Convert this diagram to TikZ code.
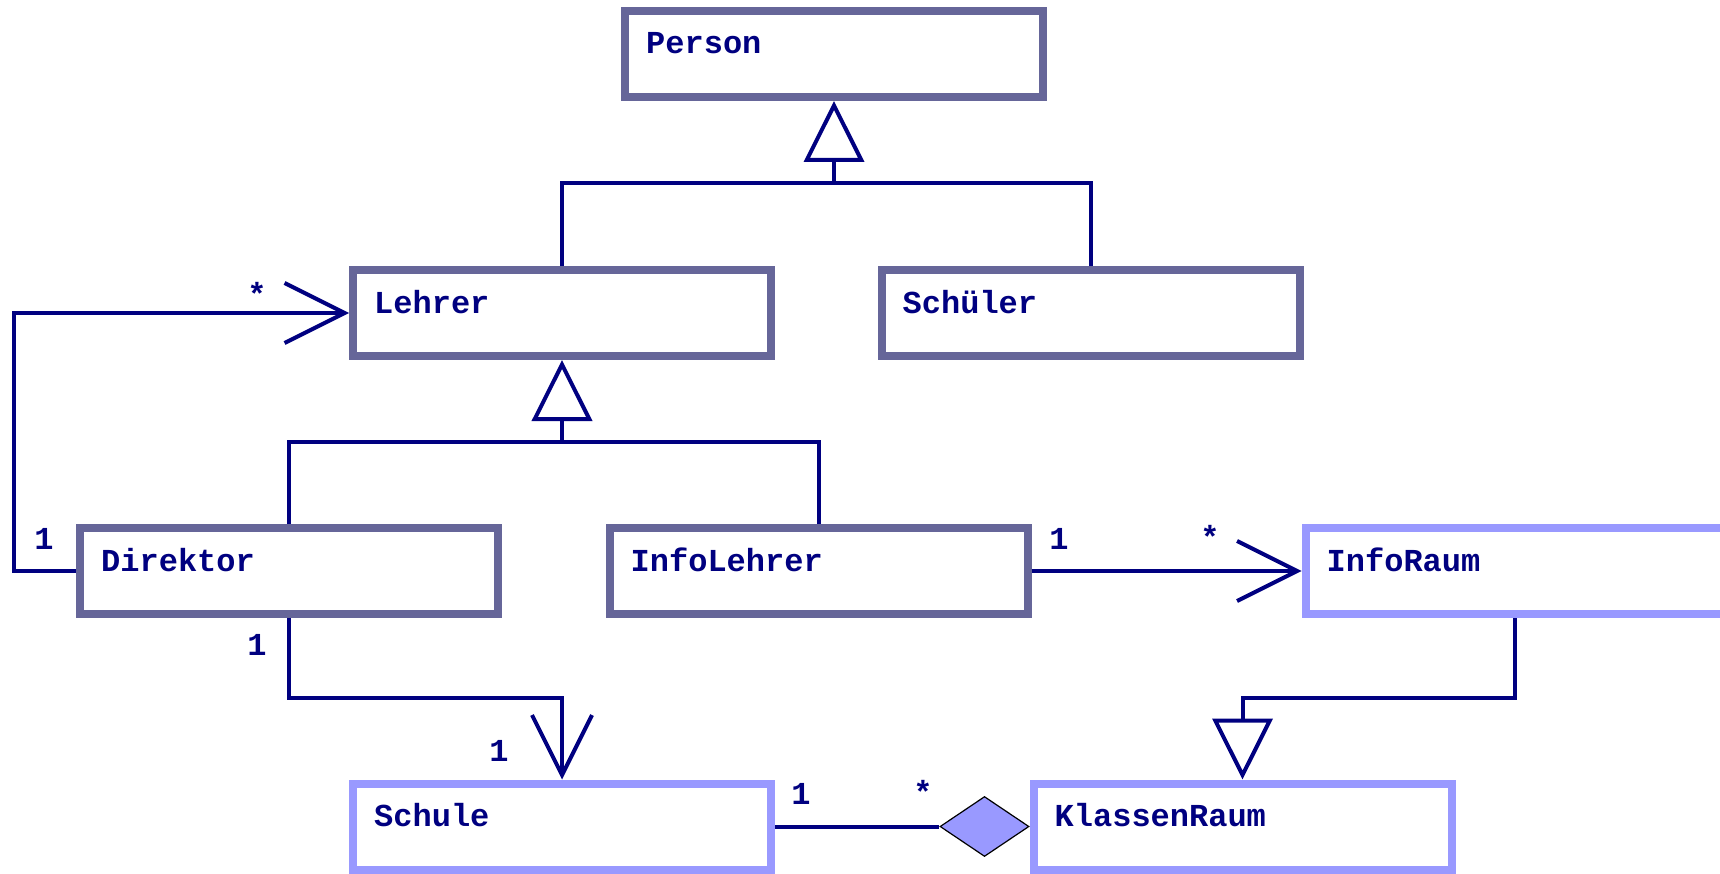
\documentclass[tikz,border=0pt]{standalone}
\usepackage{fontspec}
\setmainfont{Liberation Mono}
\usetikzlibrary{arrows.meta,shapes.geometric}
\definecolor{boxdark}{HTML}{666699}
\definecolor{boxlight}{HTML}{9999FF}
\definecolor{navyline}{HTML}{000080}
\begin{document}
\begin{tikzpicture}[x=1pt,y=-1pt,
  cls/.style={draw=boxdark, line width=8pt, minimum width=418pt, minimum height=86pt, inner sep=0pt, fill=white},
  clsl/.style={cls, draw=boxlight},
  cname/.style={anchor=base west, text=navyline, font=\fontsize{32}{38}\selectfont\bfseries, inner sep=0pt},
  mult/.style={text=navyline, font=\fontsize{32}{38}\selectfont\bfseries, inner sep=0pt},
  conn/.style={draw=navyline, line width=4pt},
  gen/.style={conn, -{Triangle[open, length=61pt, width=60pt]}},
  assoc/.style={conn, -{Straight Barb[length=60pt, width=60pt]}},
  agg/.style={diamond, draw=black, line width=1.2pt, fill=boxlight, minimum width=89pt, minimum height=60pt, inner sep=0pt}
]
\useasboundingbox (0,0) rectangle (1720,874);
% classes
\node[cls]  (Person)      at (834,54)     {};
\node[cls]  (Lehrer)      at (562,313)    {};
\node[cls]  (Schueler)    at (1090.5,313) {};
\node[cls]  (Direktor)    at (289,571)    {};
\node[cls]  (InfoLehrer)  at (818.5,571)  {};
\node[clsl] (InfoRaum)    at (1514.5,571) {};
\node[clsl] (Schule)      at (562,826.5)  {};
\node[clsl] (KlassenRaum) at (1242.5,826.5) {};
% class names
\node[cname] (tPerson)      at ([shift={(25,47)}]Person.north west) {Person};
\node[cname] (tLehrer)      at ([shift={(25,47)}]Lehrer.north west) {Lehrer};
\node[cname] (tSchueler)    at ([shift={(25,47)}]Schueler.north west) {Schüler};
\node[cname] (tDirektor)    at ([shift={(25,47)}]Direktor.north west) {Direktor};
\node[cname] (tInfoLehrer)  at ([shift={(25,47)}]InfoLehrer.north west) {InfoLehrer};
\node[cname] (tInfoRaum)    at ([shift={(25,47)}]InfoRaum.north west) {InfoRaum};
\node[cname] (tSchule)      at ([shift={(25,47)}]Schule.north west) {Schule};
\node[cname] (tKlassenRaum) at ([shift={(25,47)}]KlassenRaum.north west) {KlassenRaum};
% junctions
\coordinate (jP) at (834,183);
\coordinate (jL) at (562,442);
\coordinate (jS) at (562,698);
\coordinate (jK) at (1242.5,698);
\coordinate (jD) at (14,571);
% generalizations
\draw[conn] (Lehrer.north) |- (jP);
\draw[conn] (Schueler.north) |- (jP);
\draw[gen] (jP) -- (Person.south);
\draw[conn] (Direktor.north) |- (jL);
\draw[conn] (InfoLehrer.north) |- (jL);
\draw[gen] (jL) -- (Lehrer.south);
\draw[gen] (InfoRaum.south) |- (jK) -- (KlassenRaum.north);
% associations
\draw[assoc] (Direktor.west) -- (jD) |- (Lehrer.west);
\draw[assoc] (InfoLehrer.east) -- (InfoRaum.west);
\draw[assoc] (Direktor.south) |- (jS) -- (Schule.north);
% aggregation
\node[agg] (dia) at (984.5,826.5) {};
\draw[conn] (Schule.east) -- (dia.west);
% multiplicities
\node[mult] (m1) at (44,539) {1};
\node[mult] (m2) at (257,294) {*};
\node[mult] (m3) at (1059,539) {1};
\node[mult] (m4) at (1210,537) {*};
\node[mult] (m5) at (257,645) {1};
\node[mult] (m6) at (499,751) {1};
\node[mult] (m7) at (801,794) {1};
\node[mult] (m8) at (923,792) {*};
\end{tikzpicture}
\end{document}
